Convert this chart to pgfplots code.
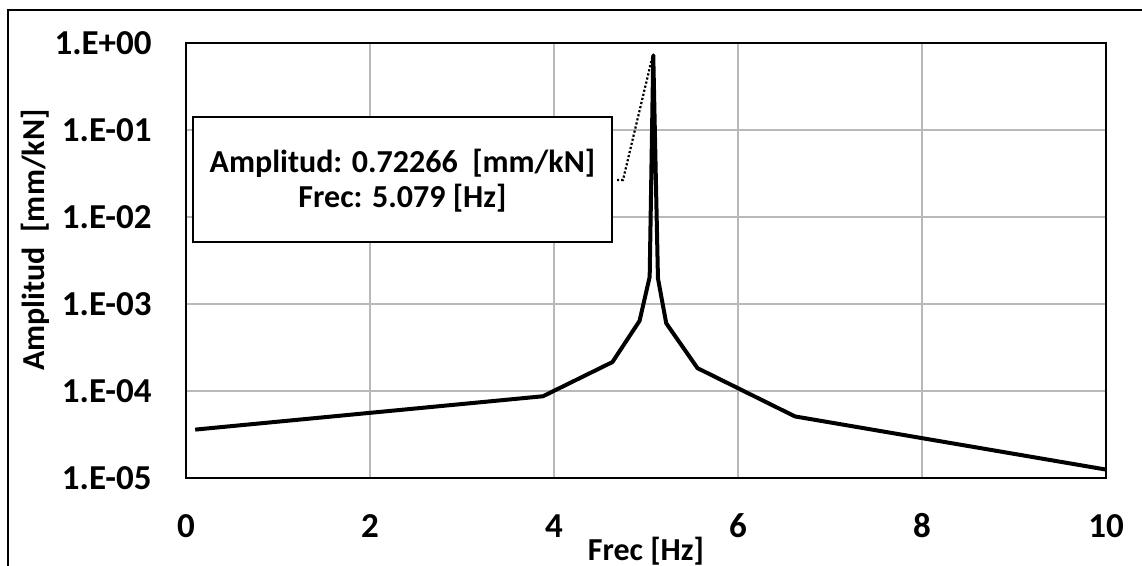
\documentclass[border=0pt]{standalone}
\usepackage{fontspec}
\setmainfont{Carlito}
\usepackage{pgfplots}
\pgfplotsset{compat=1.18}
\definecolor{gridgray}{RGB}{185,185,185}

\begin{document}
\begin{tikzpicture}
  % page area: 1142 x 566 px at 0.5pt per px, axis SW corner at px (186,478)
  \useasboundingbox (-93pt,-44pt) rectangle (478pt,239pt);
  \draw[line width=0.8pt] (-89pt,-50pt) -- (-89pt,234pt) -- (490pt,234pt);
  \begin{axis}[
    at={(0pt,0pt)}, anchor=south west,
    scale only axis,
    width=460pt, height=217.5pt,
    ymode=log,
    xmin=0, xmax=10,
    ymin=1e-5, ymax=1,
    xtick={0,2,4,6,8,10},
    xticklabels={0,2,4,6,8,10},
    ytick={1e-5,1e-4,1e-3,1e-2,1e-1,1},
    yticklabels={1.E-05,1.E-04,1.E-03,1.E-02,1.E-01,1.E+00},
    yminorticks=false,
    major tick length=0pt,
    minor tick length=0pt,
    grid=major,
    major grid style={gridgray, line width=1pt},
    axis line style={black, line width=1pt},
    tick label style={font=\bfseries\fontsize{17.5}{20}\selectfont, inner sep=0pt},
    yticklabel style={anchor=east, xshift=-17pt},
    xticklabel style={anchor=center, yshift=-24pt},
    xlabel={Frec [Hz]},
    ylabel={Amplitud\ \ [mm/kN]},
    label style={font=\bfseries\fontsize{16}{18}\selectfont},
    xlabel style={at={(axis description cs:0.5,-0.168)}, anchor=center},
    ylabel style={at={(axis description cs:-0.164,0.547)}, anchor=center},
  ]
    \addplot[black, line width=2pt, line join=round] coordinates {
      (0.1, 3.6e-5)
      (3.88, 8.7e-5)
      (4.635, 2.15e-4)
      (4.93, 6.4e-4)
      (5.04, 2.05e-3)
      (5.079, 0.72266)
      (5.13, 1.97e-3)
      (5.22, 6.0e-4)
      (5.56, 1.83e-4)
      (6.62, 5.1e-5)
      (10, 1.25e-5)
    };
    % data label callout
    \draw[black, line width=1.1pt, densely dotted]
      (axis description cs:0.4685,0.6851) -- (axis description cs:0.475,0.6851)
      -- (axis description cs:0.5065,0.9644);
    \draw[black, line width=1pt, fill=white]
      (axis description cs:0.0076,0.5425) rectangle (axis description cs:0.463,0.83);
    \node[font=\bfseries\fontsize{16}{18}\selectfont, inner sep=0pt]
      at (axis description cs:0.2353,0.724) {Amplitud: 0.72266\ \ [mm/kN]};
    \node[font=\bfseries\fontsize{16}{18}\selectfont, inner sep=0pt]
      at (axis description cs:0.2353,0.644) {Frec: 5.079 [Hz]};
  \end{axis}
\end{tikzpicture}
\end{document}
